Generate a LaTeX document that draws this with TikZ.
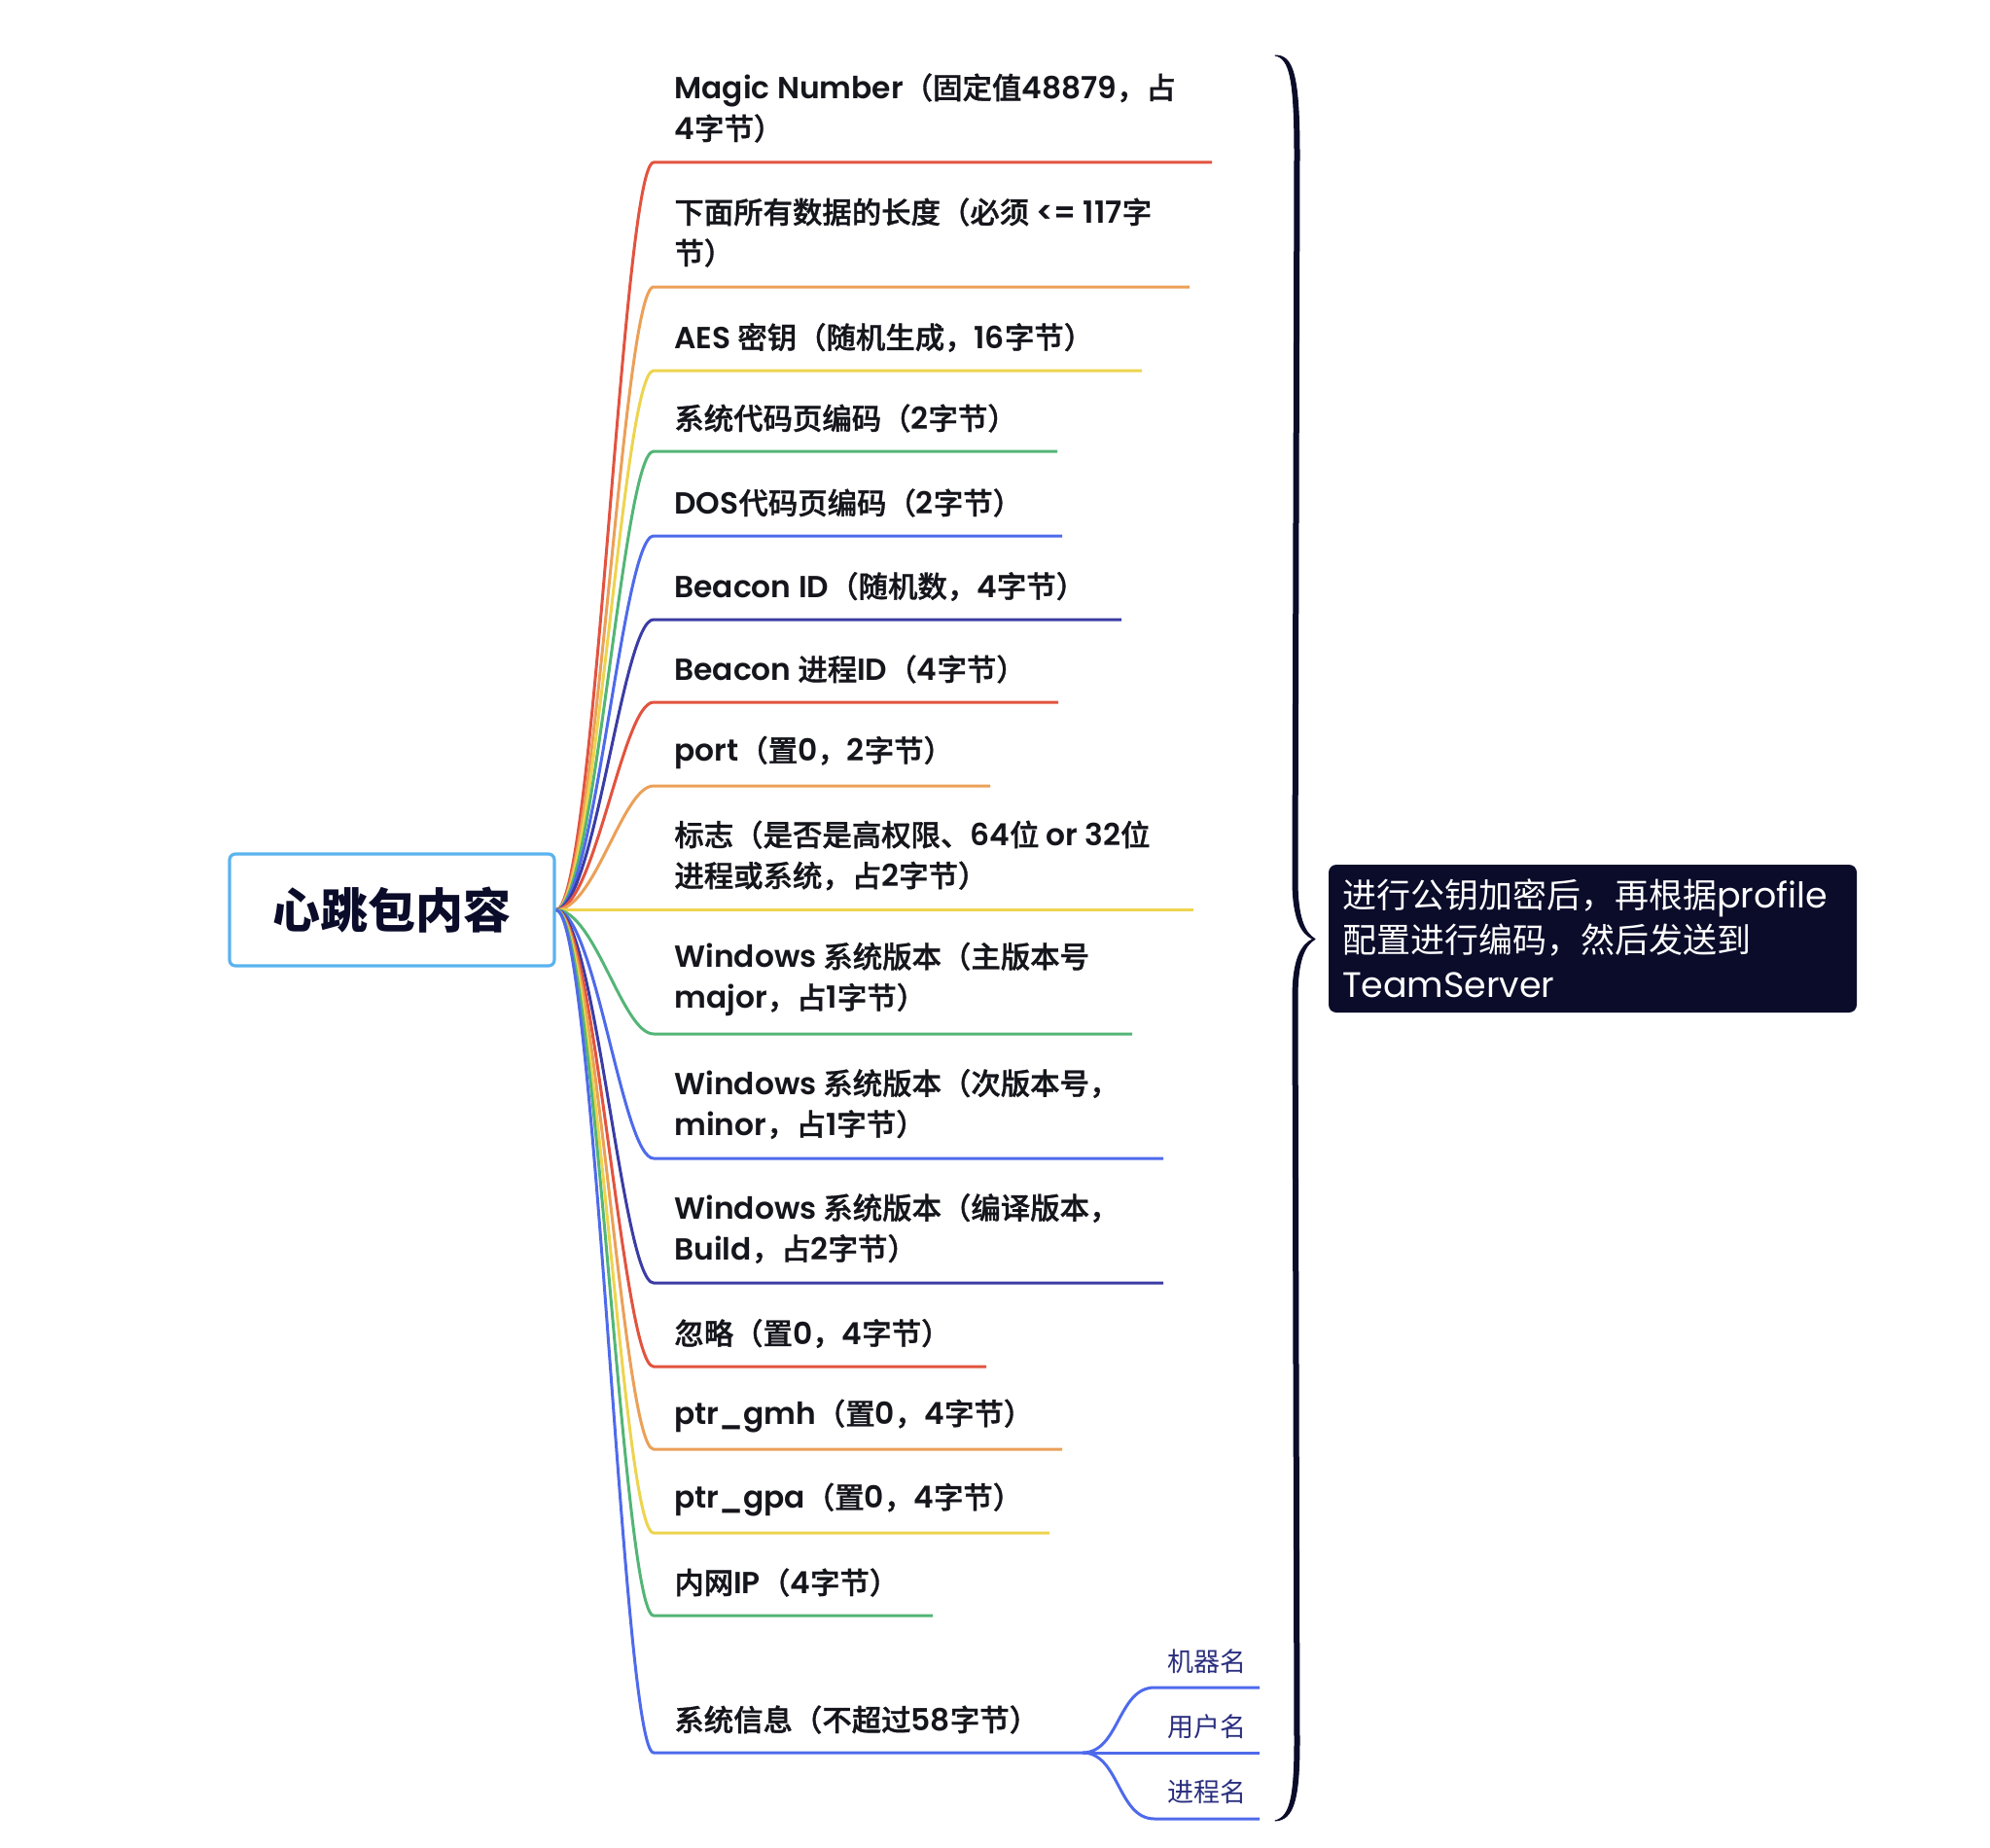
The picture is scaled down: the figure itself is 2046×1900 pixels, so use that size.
\documentclass[tikz,border=0pt]{standalone}
\usepackage{fontspec}
\setmainfont{Noto Sans CJK SC}
\newfontfamily\medfont{Noto Sans CJK SC Medium}[FakeBold=1.2]
\newfontfamily\latm{Poppins}[UprightFont=* SemiBold, Scale=1.03]
\newfontfamily\latr{Poppins}[Scale=1.04]
\newcommand{\La}[1]{{\latm #1}}
\newcommand{\Lr}[1]{{\latr #1}}
\definecolor{cred}{HTML}{E2533F}
\definecolor{corange}{HTML}{EBA058}
\definecolor{cyellow}{HTML}{EDD44E}
\definecolor{cgreen}{HTML}{53B576}
\definecolor{cblue}{HTML}{4E6AEB}
\definecolor{cindigo}{HTML}{3B3CA4}
\definecolor{rootblue}{HTML}{5BB3EE}
\definecolor{navy}{HTML}{0B0C2A}
\definecolor{subtext}{HTML}{2A2E7E}
\definecolor{btextc}{HTML}{15151C}
\tikzset{
  rootbox/.style={draw=rootblue, line width=1.6pt, rounded corners=3pt, fill=white,
    minimum width=167pt, minimum height=57.5pt, inner sep=0pt,
    font=\fontsize{24.5pt}{28pt}\selectfont\bfseries, text=navy},
  btext/.style={anchor=west, inner sep=0pt, align=left, text=btextc,
    font=\fontsize{15.2pt}{21pt}\selectfont\medfont},
  subl/.style={anchor=west, inner sep=0pt, text=subtext,
    font=\fontsize{13.5pt}{16pt}\selectfont},
  branch/.style={line width=1.5pt},
  notebox/.style={fill=navy, rounded corners=4pt, text=white, align=left,
    minimum width=271.5pt, minimum height=76pt, text width=257.5pt, inner xsep=7pt,
    font=\fontsize{17.5pt}{23pt}\selectfont},
  bracepath/.style={fill=navy, draw=navy, line width=0.5pt, line cap=round, line join=round}
}
\newcommand{\br}[3]{% color, start coord, end coord
  \draw[branch, #1] (rp) .. controls +(40,0) and +(-32,0) .. (#2) -- (#3);}
\begin{document}
\begin{tikzpicture}[x=0.5pt,y=-0.5pt]
\useasboundingbox (0,0) rectangle (2046,1900);
\node[rootbox] (root) at (403,935.5) {心跳包内容};
\coordinate (rp) at (root.east);
% branch start/end coordinates
\coordinate (s1) at (672,167);   \coordinate (e1) at (1246,167);
\coordinate (s2) at (672,295);   \coordinate (e2) at (1223,295);
\coordinate (s3) at (672,381);   \coordinate (e3) at (1174,381);
\coordinate (s4) at (672,464);   \coordinate (e4) at (1087,464);
\coordinate (s5) at (672,551);   \coordinate (e5) at (1092,551);
\coordinate (s6) at (672,637);   \coordinate (e6) at (1153,637);
\coordinate (s7) at (672,722);   \coordinate (e7) at (1088,722);
\coordinate (s8) at (672,808);   \coordinate (e8) at (1018,808);
\coordinate (s9) at (672,935.5); \coordinate (e9) at (1227,935.5);
\coordinate (s10) at (672,1063); \coordinate (e10) at (1164,1063);
\coordinate (s11) at (672,1191); \coordinate (e11) at (1196,1191);
\coordinate (s12) at (672,1319); \coordinate (e12) at (1196,1319);
\coordinate (s13) at (672,1405); \coordinate (e13) at (1014,1405);
\coordinate (s14) at (672,1490); \coordinate (e14) at (1092,1490);
\coordinate (s15) at (672,1576); \coordinate (e15) at (1079,1576);
\coordinate (s16) at (672,1661); \coordinate (e16) at (959,1661);
\coordinate (s17) at (672,1802); \coordinate (j17) at (1113,1802);
\br{cred}{s1}{e1}
\br{corange}{s2}{e2}
\br{cyellow}{s3}{e3}
\br{cgreen}{s4}{e4}
\br{cblue}{s5}{e5}
\br{cindigo}{s6}{e6}
\br{cred}{s7}{e7}
\br{corange}{s8}{e8}
\br{cyellow}{s9}{e9}
\br{cgreen}{s10}{e10}
\br{cblue}{s11}{e11}
\br{cindigo}{s12}{e12}
\br{cred}{s13}{e13}
\br{corange}{s14}{e14}
\br{cyellow}{s15}{e15}
\br{cgreen}{s16}{e16}
\br{cblue}{s17}{j17}
% branch texts
\node[btext] (t1) at (693,111) {\La{Magic Number}（固定值\La{48879}，占\\\La{4}字节）};
\node[btext] (t2) at (693,239) {下面所有数据的长度（必须 \La{<= 117}字\\节）};
\node[btext] (t3) at (693,347) {\La{AES} 密钥（随机生成，\La{16}字节）};
\node[btext] (t4) at (693,430) {系统代码页编码（\La{2}字节）};
\node[btext] (t5) at (693,517) {\La{DOS}代码页编码（\La{2}字节）};
\node[btext] (t6) at (693,603) {\La{Beacon ID}（随机数，\La{4}字节）};
\node[btext] (t7) at (693,688) {\La{Beacon} 进程\La{ID}（\La{4}字节）};
\node[btext] (t8) at (693,774) {\La{port}（置\La{0}，\La{2}字节）};
\node[btext] (t9) at (693,879.5) {标志（是否是高权限、\La{64}位 \La{or 32}位\\进程或系统，占\La{2}字节）};
\node[btext] (t10) at (693,1007) {\La{Windows} 系统版本（主版本号\\\La{major}，占\La{1}字节）};
\node[btext] (t11) at (693,1135) {\La{Windows} 系统版本（次版本号，\\\La{minor}，占\La{1}字节）};
\node[btext] (t12) at (693,1263) {\La{Windows} 系统版本（编译版本，\\\La{Build}，占\La{2}字节）};
\node[btext] (t13) at (693,1371) {忽略（置\La{0}，\La{4}字节）};
\node[btext] (t14) at (693,1456) {\La{ptr\_gmh}（置\La{0}，\La{4}字节）};
\node[btext] (t15) at (693,1542) {\La{ptr\_gpa}（置\La{0}，\La{4}字节）};
\node[btext] (t16) at (693,1627) {内网\La{IP}（\La{4}字节）};
\node[btext] (t17) at (693,1768) {系统信息（不超过\La{58}字节）};
% sub branches
\coordinate (sa) at (1187,1735); \coordinate (ea) at (1295,1735);
\coordinate (eb) at (1295,1802);
\coordinate (sc) at (1187,1870); \coordinate (ec) at (1295,1870);
\draw[branch, cblue] (j17) .. controls +(38,0) and +(-38,0) .. (sa) -- (ea);
\draw[branch, cblue] (j17) -- (eb);
\draw[branch, cblue] (j17) .. controls +(38,0) and +(-38,0) .. (sc) -- (ec);
\node[subl] (u1) at (1200,1708) {机器名};
\node[subl] (u2) at (1200,1775) {用户名};
\node[subl] (u3) at (1200,1842) {进程名};
% summary brace (tapered)
\path[bracepath] (1311,57) .. controls (1326,60) and (1331,80) .. (1331,160)
  -- (1329,905) .. controls (1329,945) and (1338,960) .. (1350,965.5)
  .. controls (1338,971) and (1329,986) .. (1329,1026)
  -- (1331,1790) .. controls (1331,1850) and (1326,1868) .. (1311,1872)
  .. controls (1330,1871) and (1336,1850) .. (1336,1790)
  -- (1334,1026) .. controls (1334,988) and (1341,972) .. (1352,965.5)
  .. controls (1341,959) and (1334,943) .. (1334,905)
  -- (1336,160) .. controls (1336,75) and (1329,57) .. (1311,57) -- cycle;
% note
\node[notebox] (note) at (1637.5,965) {进行公钥加密后，再根据\Lr{profile}\\配置进行编码，然后发送到\\\Lr{TeamServer}};
\end{tikzpicture}
\end{document}
